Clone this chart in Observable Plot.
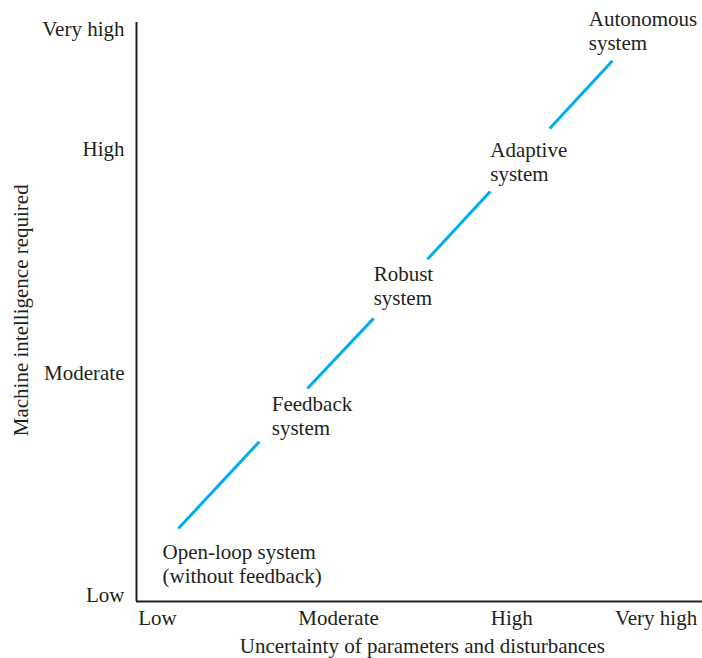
<!DOCTYPE html>
<html><head><meta charset="utf-8">
<script src="https://cdn.jsdelivr.net/npm/d3@7"></script>
<script src="https://cdn.jsdelivr.net/npm/@observablehq/plot@0.6"></script>
<style>body{margin:0;background:#fff}</style>
</head><body><div id="chart"></div>
<script>
// Tick positions (abstract 0–100 units) and labels
const xTickValues = [3.7, 35.7, 66.3, 91.8];
const xTickLabels = ["Low", "Moderate", "High", "Very high"];
const yTickValues = [1.15, 39.4, 78.1, 98.9];
const yTickLabels = ["Low", "Moderate", "High", "Very high"];

// Blue line segments between system labels
const segX1 = [7.4, 30.2, 51.4, 73.0];
const segY1 = [12.6, 36.8, 59.1, 81.7];
const segX2 = [21.7, 41.9, 62.5, 84.1];
const segY2 = [27.6, 48.9, 70.8, 93.4];

// System labels
const sysNames = ["Open-loop system\n(without feedback)", "Feedback\nsystem", "Robust\nsystem", "Adaptive\nsystem", "Autonomous\nsystem"];
const sysX = [4.6, 23.9, 41.9, 62.5, 79.9];
const sysY = [6.6, 32.2, 54.6, 76.0, 98.7];

const xTitle = "Uncertainty of parameters and disturbances";
const yTitle = "Machine intelligence required";

const segments = segX1.map((x1, i) => ({x1, y1: segY1[i], x2: segX2[i], y2: segY2[i]}));
const systems = sysNames.map((name, i) => ({name, x: sysX[i], y: sysY[i]}));

const ink = "#231f20";
const font = "Liberation Serif, Times New Roman, serif";

const chart = Plot.plot({
  width: 702,
  height: 658,
  marginLeft: 136,
  marginRight: 0,
  marginTop: 22,
  marginBottom: 57,
  style: {fontFamily: font, fontSize: "21px", color: ink, background: "#fff"},
  x: {domain: [0, 100]},
  y: {domain: [0, 100]},
  marks: [
    Plot.axisX({ticks: xTickValues, tickFormat: (d, i) => xTickLabels[i], tickSize: 0, tickPadding: 9, label: null, fontSize: 21}),
    Plot.axisY({ticks: yTickValues, tickFormat: (d, i) => yTickLabels[i], tickSize: 0, tickPadding: 12, label: null, fontSize: 21}),
    Plot.ruleX([0], {y1: 0, y2: 100, stroke: ink, strokeWidth: 2}),
    Plot.ruleY([0], {x1: 0, x2: 100, stroke: ink, strokeWidth: 2}),
    Plot.link(segments, {x1: "x1", y1: "y1", x2: "x2", y2: "y2", stroke: "#00aeef", strokeWidth: 3}),
    Plot.text(systems, {x: "x", y: "y", text: "name", textAnchor: "start", lineAnchor: "middle", lineHeight: 1.143, fontSize: 21, fill: ink}),
    Plot.text([xTitle], {x: 50.5, y: -7.65, text: d => d, lineAnchor: "middle", fontSize: 21, fill: ink, clip: false}),
    Plot.text([yTitle], {x: -20.3, y: 50.3, text: d => d, rotate: -90, lineAnchor: "middle", fontSize: 21, fill: ink, clip: false})
  ]
});
document.getElementById("chart").appendChild(chart);
</script>
</body></html>
